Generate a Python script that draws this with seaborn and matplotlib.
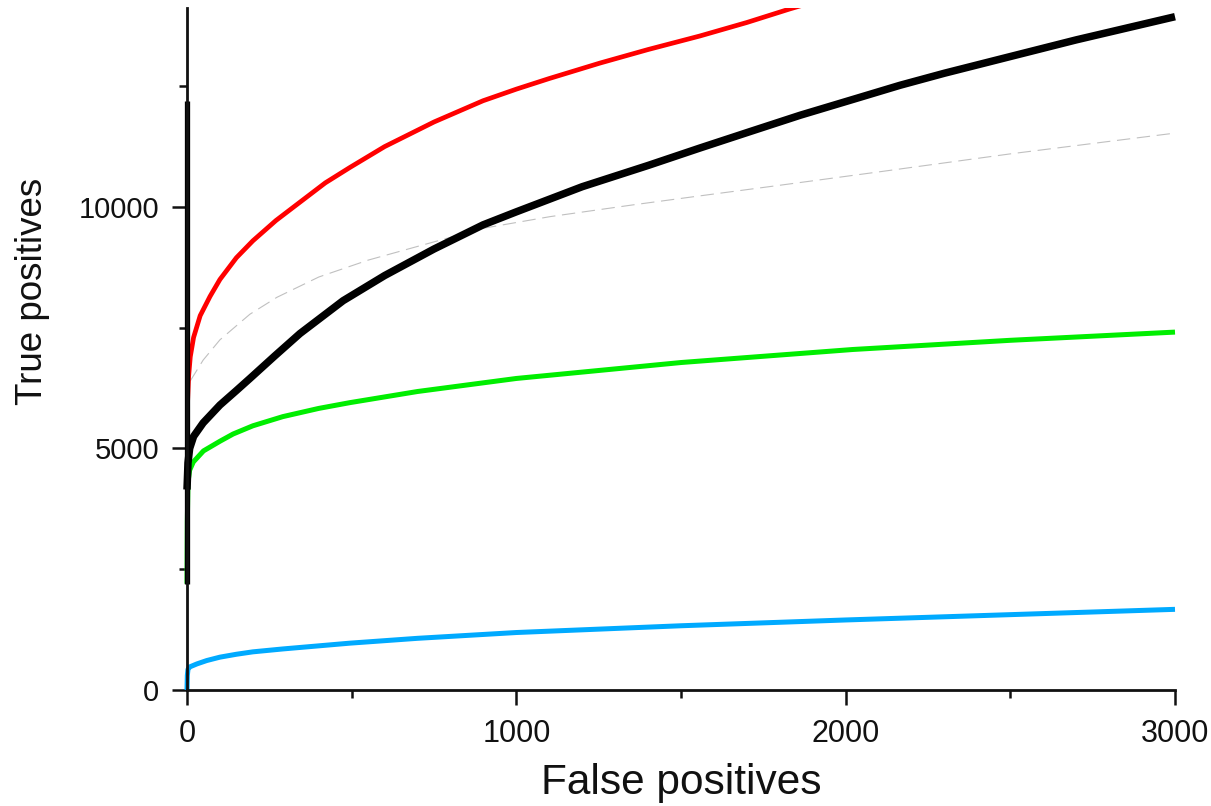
import matplotlib
matplotlib.use("Agg")
import matplotlib.pyplot as plt
from matplotlib import font_manager
from matplotlib.ticker import MultipleLocator
import pandas as pd
import seaborn as sns

# ROC-style curves: true positives against false positives
red_fp = [0, 2, 5, 10, 20, 40, 70, 100, 150, 200, 270, 343, 420, 495, 600, 750, 899,
          1000, 1100, 1254, 1400, 1557, 1700, 1830, 1900]
red_tp = [5200, 6000, 6500, 6900, 7300, 7750, 8150, 8500, 8950, 9300, 9720, 10100, 10500,
          10820, 11250, 11760, 12200, 12440, 12660, 12980, 13260, 13540, 13820, 14100,
          14240]

black_fp = [0, 3, 8, 20, 49, 100, 150, 191, 267, 343, 474, 600, 750, 899, 1000, 1200,
            1400, 1557, 1709, 1862, 2043, 2165, 2300, 2468, 2700, 3000]
black_tp = [4150, 4700, 5000, 5250, 5530, 5900, 6200, 6450, 6920, 7380, 8060, 8580, 9130,
            9630, 9900, 10420, 10860, 11220, 11560, 11900, 12270, 12520, 12770, 13060,
            13460, 13940]

green_fp = [0, 1, 3, 8, 19, 50, 100, 140, 200, 291, 400, 495, 700, 1000, 1500, 2022,
            2500, 3000]
green_tp = [2200, 3500, 4300, 4550, 4720, 4950, 5150, 5300, 5470, 5660, 5830, 5950, 6180,
            6450, 6780, 7050, 7240, 7410]

blue_fp = [0, 1, 3, 9, 30, 60, 100, 150, 200, 291, 495, 700, 1000, 1500, 2000, 2500, 3000]
blue_tp = [0, 300, 430, 480, 540, 610, 680, 740, 790, 850, 970, 1070, 1190, 1330, 1450,
           1560, 1670]

gray_fp = [10, 49, 100, 191, 273, 400, 550, 698, 900, 1102, 1350, 1557, 1800, 2104, 2500,
           3000]
gray_tp = [6400, 6830, 7250, 7780, 8130, 8550, 8900, 9180, 9560, 9800, 10040, 10230, 10450,
           10730, 11100, 11530]

# vertical run of points at zero false positives
axis_fp = [0, 0]
axis_tp = [2200, 12200]

x_ticks = [0, 1000, 2000, 3000]
y_ticks = [0, 5000, 10000]

sns.set_theme(style="ticks")
available = {f.name for f in font_manager.fontManager.ttflist}
base_font = "Liberation Sans" if "Liberation Sans" in available else "DejaVu Sans"
plt.rcParams["font.family"] = [base_font, "DejaVu Sans"]

fig = plt.figure(figsize=(12.11, 8.06), dpi=100)
ax = fig.add_axes([187 / 1211, 1 - 690 / 806, 988 / 1211, 682 / 806])


def draw(fp, tp, color, lw, clip=True, **kw):
    df = pd.DataFrame({"fp": fp, "tp": tp})
    sns.lineplot(data=df, x="fp", y="tp", ax=ax, color=color, linewidth=lw,
                 estimator=None, sort=False, legend=False, **kw)
    ax.lines[-1].set_clip_on(clip)
    ax.lines[-1].set_solid_capstyle("butt")


draw(blue_fp, blue_tp, "#00aaff", 3.6, clip=False)
draw(green_fp, green_tp, "#00ee00", 3.6, clip=False)
draw(gray_fp, gray_tp, "#c0c0c0", 0.8, clip=False, linestyle=(0, (12, 6)))
draw(red_fp, red_tp, "#ff0000", 3.4, clip=True)
draw(black_fp, black_tp, "#000000", 5.4, clip=False)
draw(axis_fp, axis_tp, "#000000", 3.8, clip=False)

ax.set_xlim(0, 3000)
ax.set_ylim(0, 14120)
ax.set_xticks(x_ticks)
ax.set_yticks(y_ticks)
ax.xaxis.set_minor_locator(MultipleLocator(500))
ax.yaxis.set_minor_locator(MultipleLocator(2500))
sns.despine(ax=ax)
for side in ("left", "bottom"):
    ax.spines[side].set_linewidth(2.0)
    ax.spines[side].set_color("#111111")

ax.tick_params(which="major", length=11, width=1.8, color="#111111", direction="out")
ax.tick_params(which="minor", length=6, width=1.8, color="#111111", direction="out")
ax.tick_params(axis="y", which="major", labelsize=21, pad=9, labelcolor="#111111")
ax.tick_params(axis="x", which="major", labelsize=22, pad=10, labelcolor="#111111")

ax.set_xlabel("False positives", fontsize=30.5, color="#111111")
ax.set_ylabel("True positives", fontsize=26.5, color="#111111")
ax.xaxis.set_label_coords(0.5, -0.107)
ax.yaxis.set_label_coords(-0.139, 0.585)

fig.savefig("out.png", dpi=100)
